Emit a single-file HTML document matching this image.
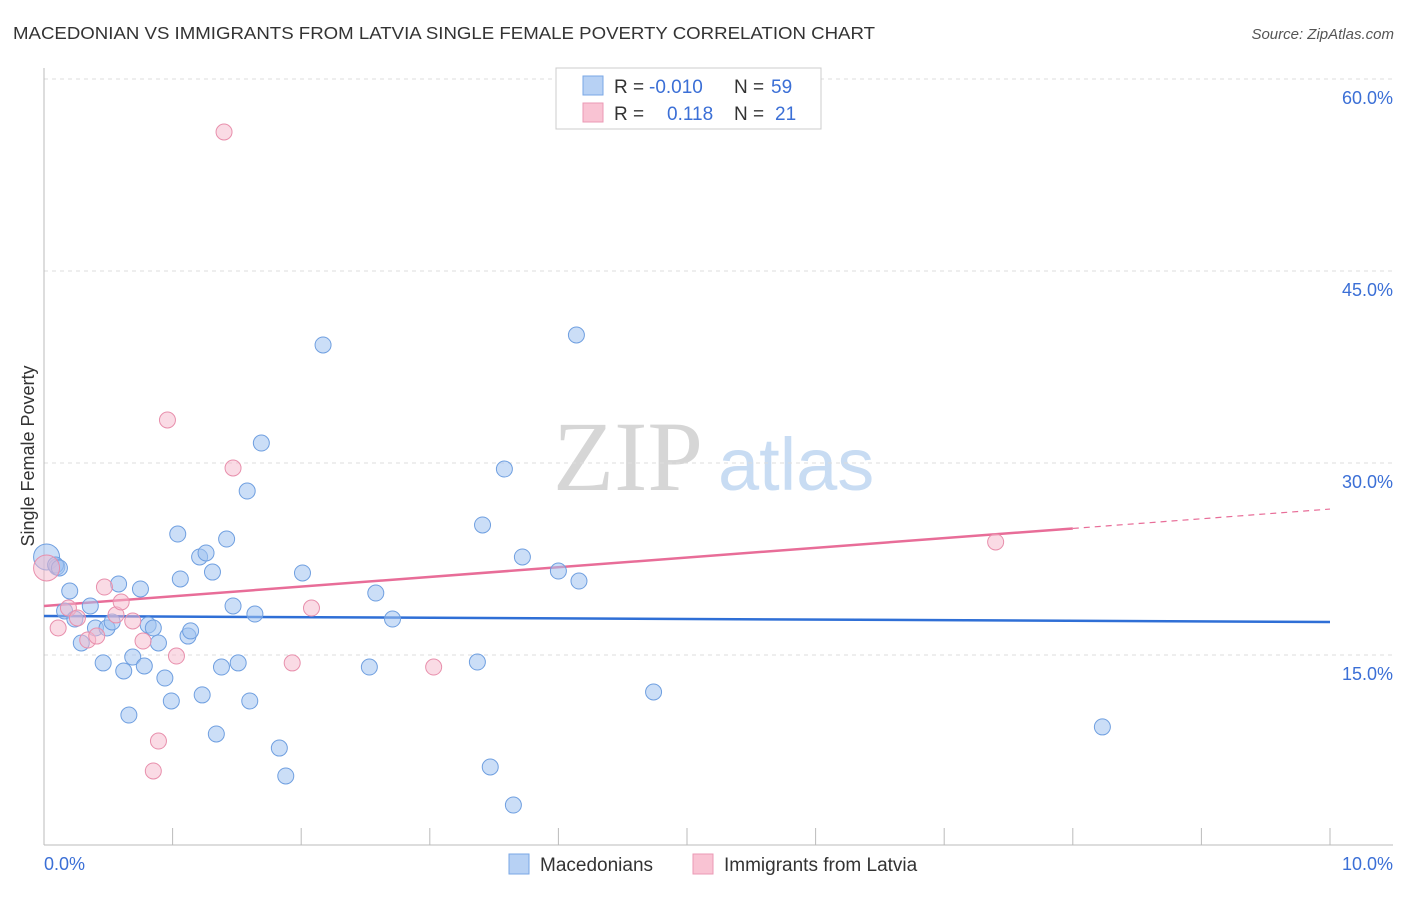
<!DOCTYPE html>
<html><head><meta charset="utf-8"><style>
body{margin:0;background:#fff;font-family:"Liberation Sans",sans-serif}
</style></head><body>
<svg id="chart" width="1406" height="892" font-family="Liberation Sans, sans-serif">
<text x="13" y="39" font-size="17.5" fill="#333" textLength="862" lengthAdjust="spacingAndGlyphs">MACEDONIAN VS IMMIGRANTS FROM LATVIA SINGLE FEMALE POVERTY CORRELATION CHART</text>
<text x="1394" y="39" font-size="15" fill="#555" font-style="italic" text-anchor="end">Source: ZipAtlas.com</text>
<g>
<text x="553" y="490" font-size="100" fill="#d6d6d6" style="font-family:'Liberation Serif',serif">ZIP</text>
<text x="718" y="490" font-size="74" fill="#c8dcf3">atlas</text>
</g>
<g id="grid"></g>
<g id="axes"></g>
<g id="lines"></g>
<g id="pts"></g>
<text transform="translate(34,456) rotate(-90)" font-size="18" fill="#333" text-anchor="middle">Single Female Poverty</text>
<g>
<rect x="556" y="68" width="265" height="61" fill="#fff" stroke="#ccc"/>
<rect x="583" y="76" width="20" height="19" fill="#b7d1f4" stroke="#7aa7e6"/>
<rect x="583" y="103" width="20" height="19" fill="#f9c3d3" stroke="#eb9ab5"/>
<text x="614" y="93" font-size="19" fill="#333">R = <tspan fill="#3b6fd6" x="649">-0.010</tspan><tspan x="734">N = </tspan><tspan fill="#3b6fd6" x="771">59</tspan></text>
<text x="614" y="120" font-size="19" fill="#333">R = <tspan fill="#3b6fd6" x="667">0.118</tspan><tspan x="734">N = </tspan><tspan fill="#3b6fd6" x="775">21</tspan></text>
</g>
<g>
<rect x="509" y="854" width="20" height="20" fill="#b7d1f4" stroke="#7aa7e6"/>
<text x="540" y="871" font-size="19" fill="#333">Macedonians</text>
<rect x="693" y="854" width="20" height="20" fill="#f9c3d3" stroke="#eb9ab5"/>
<text x="724" y="871" font-size="19" fill="#333">Immigrants from Latvia</text>
</g>
</svg>
<script>
const yTicks=[15,30,45,60];
const yTickLabels=["15.0%","30.0%","45.0%","60.0%"];
const blueX=[0.02,0.10,0.20,0.16,0.24,0.36,0.29,0.40,0.46,0.49,0.53,0.58,0.62,0.66,0.69,0.75,0.78,0.81,0.85,0.89,0.94,0.99,1.04,1.06,1.12,1.14,1.21,1.23,1.26,1.31,1.34,1.38,1.42,1.47,1.51,1.58,1.60,1.64,1.69,1.83,1.88,2.01,2.17,2.53,2.58,2.71,3.37,3.41,3.47,3.58,3.65,3.72,4.00,4.14,4.16,4.74,8.23,0.09,0.12];
const blueY=[22.66,21.88,20.0,18.44,17.81,18.83,15.94,17.11,14.38,17.11,17.58,20.55,13.75,10.31,14.84,20.16,14.14,17.34,17.11,15.94,13.20,11.41,24.45,20.94,16.48,16.88,22.66,11.88,22.97,21.48,8.83,14.06,24.06,18.83,14.38,27.81,11.41,18.20,31.56,7.73,5.55,21.41,39.22,14.06,19.84,17.81,14.45,25.16,6.25,29.53,3.28,22.66,21.56,40.0,20.78,12.11,9.38,22.03,21.80];
const pinkX=[0.02,0.11,0.19,0.26,0.34,0.41,0.47,0.56,0.60,0.69,0.77,0.85,0.89,0.96,1.03,1.40,1.47,1.93,2.08,3.03,7.40];
const pinkY=[21.80,17.11,18.67,17.89,16.17,16.48,20.31,18.13,19.14,17.66,16.09,5.94,8.28,33.36,14.92,55.86,29.61,14.38,18.67,14.06,23.83];
const blueTrend=[18.05,17.58];
const pinkTrend=[18.83,26.4];
const NS="http://www.w3.org/2000/svg";
const X=v=>44+v*128.6, Y=v=>847-v*12.8;
function mk(p,t,a){const e=document.createElementNS(NS,t);for(const k in a)e.setAttribute(k,a[k]);document.getElementById(p).appendChild(e);return e;}
yTicks.forEach((t,i)=>{
 const g=mk('grid','line',{x1:44,x2:1393,y1:Y(t),y2:Y(t),stroke:'#ddd','stroke-dasharray':'4,4'});
 
 
 const l=mk('grid','text',{x:1393,y:Y(t)+25,'font-size':18,fill:'#3b6fd6','text-anchor':'end'});
 l.textContent=yTickLabels[i];
 
 
});
mk('grid','line',{x1:44,x2:1393,y1:79,y2:79,stroke:'#ddd','stroke-dasharray':'4,4'});
mk('axes','line',{x1:44,x2:44,y1:68,y2:845,stroke:'#bbb'});
mk('axes','line',{x1:44,x2:1393,y1:845,y2:845,stroke:'#bbb'});
for(let i=0;i<=10;i++){const t=mk('axes','line',{x1:X(i),x2:X(i),y1:828,y2:845,stroke:'#bbb'});
 
 }
const xl0=mk('axes','text',{x:44,y:870,'font-size':18,fill:'#3b6fd6'});xl0.textContent='0.0%';


const xl1=mk('axes','text',{x:1393,y:870,'font-size':18,fill:'#3b6fd6','text-anchor':'end'});xl1.textContent='10.0%';


const bl=mk('lines','line',{x1:X(0),y1:Y(blueTrend[0]),x2:X(10),y2:Y(blueTrend[1]),stroke:'#2f6fd6','stroke-width':2.5});


const py=x=>pinkTrend[0]+(pinkTrend[1]-pinkTrend[0])*x/10;
const pl=mk('lines','line',{x1:X(0),y1:Y(py(0)),x2:X(8),y2:Y(py(8)),stroke:'#e86d98','stroke-width':2.5});


const pd=mk('lines','line',{x1:X(8),y1:Y(py(8)),x2:X(10),y2:Y(py(10)),stroke:'#e86d98','stroke-width':1.2,'stroke-dasharray':'6,5'});


blueX.forEach((x,i)=>{const c=mk('pts','circle',{cx:X(x),cy:Y(blueY[i]),r:i==0?13:8,fill:'rgba(160,195,240,0.55)',stroke:'#6f9fe0','stroke-width':1});
 
 });
pinkX.forEach((x,i)=>{const c=mk('pts','circle',{cx:X(x),cy:Y(pinkY[i]),r:i==0?13:8,fill:'rgba(246,184,203,0.5)',stroke:'#e88fac','stroke-width':1});
 
 });
</script>
</body></html>
